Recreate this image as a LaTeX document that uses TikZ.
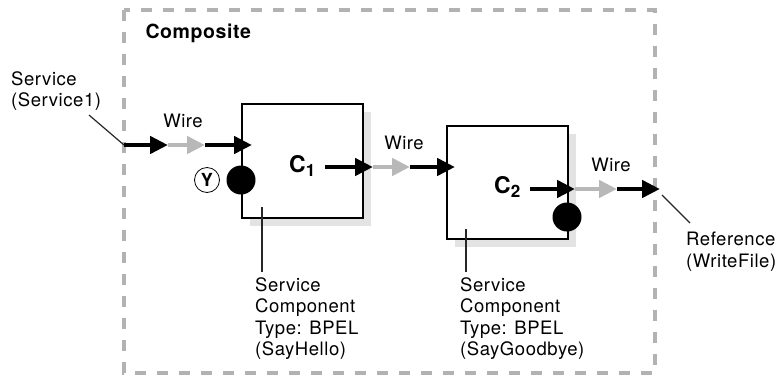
\documentclass[tikz,border=0pt]{standalone}
\usepackage{fontspec}
\setmainfont{TeX Gyre Heros}[LetterSpace=3]
\usetikzlibrary{arrows.meta, positioning, shadows}
\definecolor{wiregray}{gray}{0.72}
\definecolor{boxgray}{gray}{0.7}
\definecolor{shadegray}{gray}{0.89}
\tikzset{
  wireblk/.style={line width=4.5pt, black, -{Triangle[length=18pt, width=17pt]}},
  wiregry/.style={line width=4.5pt, wiregray, -{Triangle[length=18pt, width=17pt]}},
  txtlabel/.style={font=\fontsize{18.5}{21.6}\selectfont, inner sep=0pt, align=left}
}
\begin{document}
\begin{tikzpicture}[
            x=1pt, y=-1pt,
            every node/.style={font=\fontsize{18.5}{21.6}\selectfont},
            component/.style={rectangle, draw=black, line width=2pt, fill=white, minimum width=121pt, minimum height=114pt, inner sep=0pt,
              drop shadow={shadow xshift=8pt, shadow yshift=-8pt, fill=shadegray, opacity=1}},
            port/.style={circle, fill=black, minimum size=29pt, inner sep=0pt},
            leader/.style={line width=1.2pt, black!85}
        ]
            \useasboundingbox (0,0) rectangle (779,376);

            % Caja del composite
            \draw [boxgray, line width=4pt, dash pattern=on 11pt off 11pt] (124,10) rectangle (655,373);
            \node (comp) [anchor=west, font=\fontsize{19.5}{22}\selectfont\bfseries] at (142,33) {Composite};

            % Componentes
            \node (c1) [component, anchor=north west] at (241,103) {};
            \node (c2) [component, anchor=north west, minimum height=113pt] at (446,125) {};
            \node (c1name) [anchor=base west, inner sep=0pt, font=\fontsize{23}{26}\selectfont\bfseries] at (289,172) {C\raisebox{-0.35ex}{\fontsize{17}{18}\selectfont 1}};
            \node (c2name) [anchor=base west, inner sep=0pt, font=\fontsize{23}{26}\selectfont\bfseries] at (494,193) {C\raisebox{-0.35ex}{\fontsize{17}{18}\selectfont 2}};

            % Puertos
            \node (p1) [port] at (241,180) {};
            \node (p2) [port] at (567,217) {};
            \node (y) [circle, draw=black, line width=0.8pt, minimum size=25pt, inner sep=0pt, font=\fontsize{18}{18}\selectfont\bfseries] at (207,180) {Y};

            % Puntos de los wires
            \coordinate (w1a) at (124,145);
            \coordinate (w1b) at (168,145);
            \coordinate (w1c) at (205,145);
            \coordinate (w1d) at (252,145);
            \coordinate (w2a) at (325,167);
            \coordinate (w2b) at (373,167);
            \coordinate (w2c) at (410,167);
            \coordinate (w2d) at (455,167);
            \coordinate (w3a) at (530,189);
            \coordinate (w3b) at (575,189);
            \coordinate (w3c) at (617,189);
            \coordinate (w3d) at (660,189);

            % Wires
            \draw [wireblk] (w1a) -- (w1b);
            \draw [wiregry] (w1b) -- (w1c);
            \draw [wireblk] (w1c) -- (w1d);
            \draw [wireblk] (w2a) -- (w2b);
            \draw [wiregry] (w2b) -- (w2c);
            \draw [wireblk] (w2c) -- (w2d);
            \draw [wireblk] (w3a) -- (w3b);
            \draw [wiregry] (w3b) -- (w3c);
            \draw [wireblk] (w3c) -- (w3d);
            \node (wire1) at (183,121) {Wire};
            \node (wire2) at (404,143) {Wire};
            \node (wire3) at (611,165) {Wire};

            % Etiquetas externas
            \node (svc) [txtlabel, anchor=north west] at (11,71) {Service\\(Service1)};
            \node (ref) [txtlabel, anchor=north west] at (686,232) {Reference\\(WriteFile)};
            \node (sc1) [txtlabel, anchor=north west] at (255,277) {Service\\Component\\Type: BPEL\\(SayHello)};
            \node (sc2) [txtlabel, anchor=north west] at (460,277) {Service\\Component\\Type: BPEL\\(SayGoodbye)};

            % Lineas de referencia
            \coordinate (svcend) at (89,115);
            \coordinate (refend) at (690,223);
            \coordinate (refstart) at (662,195);
            \coordinate (sc1top) at (262,207);
            \coordinate (sc1bot) at (262,272);
            \coordinate (sc2top) at (466,229);
            \coordinate (sc2bot) at (466,272);
            \draw [leader] (svcend) -- (w1a);
            \draw [leader] (refend) -- (refstart);
            \draw [leader] (sc1bot) -- (sc1top);
            \draw [leader] (sc2bot) -- (sc2top);
        \end{tikzpicture}
\end{document}
